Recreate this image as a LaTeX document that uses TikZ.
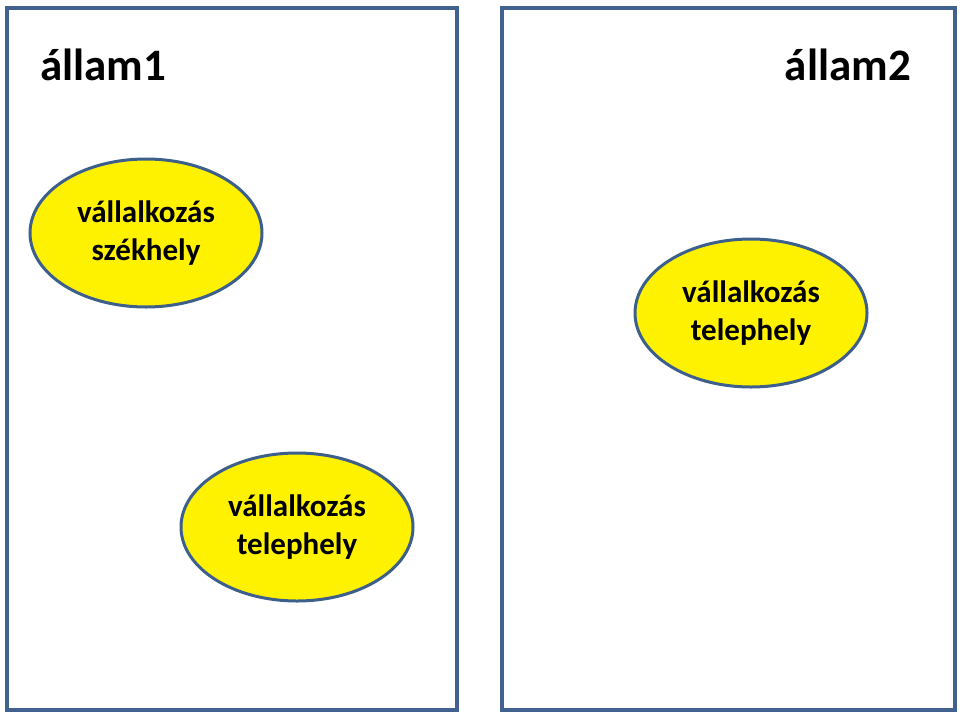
\documentclass[tikz,border=0pt]{standalone}
\usepackage{fontspec}
\setmainfont{Carlito}
\usetikzlibrary{shapes.geometric}
\definecolor{frameblue}{RGB}{65,98,143}
\definecolor{ovalblue}{RGB}{60,95,140}

\begin{document}
\begin{tikzpicture}[x=1pt,y=-1pt,state/.style={draw=frameblue,line width=3.2pt},site/.style={ellipse,draw=ovalblue,line width=3pt,fill=yellow,minimum width=232pt,minimum height=148pt,inner sep=0pt,align=center,font=\bfseries\fontsize{31}{38}\selectfont},statename/.style={font=\bfseries\fontsize{45}{50}\selectfont,inner sep=0pt}]
\useasboundingbox (0,0) rectangle (960,717);
\coordinate (L1) at (7,8);
\coordinate (L2) at (457,710);
\coordinate (R1) at (502,8);
\coordinate (R2) at (955,710);
\draw[state] (L1) rectangle (L2);
\draw[state] (R1) rectangle (R2);
\node[statename,anchor=base west] (allam1) at (40,81) {állam1};
\node[statename,anchor=base east] (allam2) at (911,81) {állam2};
\node[site] (szekhely) at (146,233) {vállalkozás\\székhely};
\node[site] (telep2) at (751,313) {vállalkozás\\telephely};
\node[site] (telep1) at (297,527) {vállalkozás\\telephely};
\end{tikzpicture}
\end{document}
